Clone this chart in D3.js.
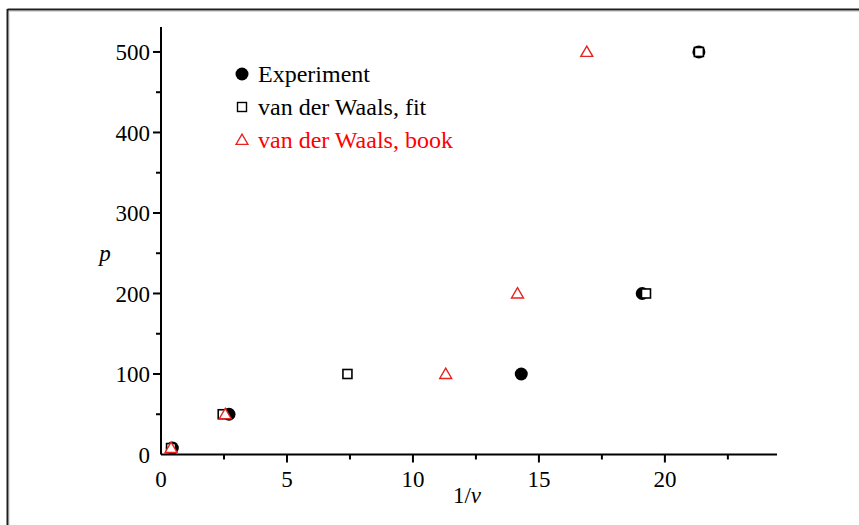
<!DOCTYPE html>
<html>
<head>
<meta charset="utf-8">
<script src="https://cdn.jsdelivr.net/npm/d3@7/dist/d3.min.js"></script>
<style>
  html, body { margin: 0; padding: 0; background: #fff; }
  svg { display: block; }
  text { font-family: "Liberation Serif", "Times New Roman", serif; }
</style>
</head>
<body>
<svg id="chart" width="859" height="525"></svg>
<script>
// Pressure p against inverse volume 1/v
const experimentX = [0.45, 2.7, 14.3, 19.1, 21.35];
const experimentP = [8, 50, 100, 200, 500];
const fitX = [0.4, 2.45, 7.4, 19.25, 21.35];
const fitP = [8, 50, 100, 200, 500];
const bookX = [0.4, 2.55, 11.3, 14.15, 16.9];
const bookP = [8, 50, 100, 200, 500];

const xMajorTicks = [0, 5, 10, 15, 20];
const xMinorTicks = [2.5, 7.5, 12.5, 17.5, 22.5];
const yMajorTicks = [0, 100, 200, 300, 400, 500];
const yMinorTicks = [50, 150, 250, 350, 450];

const legendLabels = ["Experiment", "van der Waals, fit", "van der Waals, book"];

const svg = d3.select("#chart");

// frame lines along the top and left edges
svg.append("line").attr("x1", 7.5).attr("x2", 859).attr("y1", 9.5).attr("y2", 9.5)
  .attr("stroke", "#1e1e1e").attr("stroke-width", 2);
svg.append("line").attr("x1", 7.5).attr("x2", 859).attr("y1", 11.5).attr("y2", 11.5)
  .attr("stroke", "#d8d8d8").attr("stroke-width", 1);
svg.append("line").attr("x1", 7.5).attr("x2", 7.5).attr("y1", 9).attr("y2", 525)
  .attr("stroke", "#1e1e1e").attr("stroke-width", 2);
svg.append("line").attr("x1", 9.5).attr("x2", 9.5).attr("y1", 11).attr("y2", 525)
  .attr("stroke", "#e4e4e4").attr("stroke-width", 1);

const x = d3.scaleLinear().domain([0, 24.45]).range([161, 777]);
const y = d3.scaleLinear().domain([0, 531]).range([454.5, 27]);

const fontSize = 23;

// x axis
const xAxis = svg.append("g").attr("transform", `translate(0,${y(0)})`);
xAxis.append("line").attr("x1", x(0)).attr("x2", x(24.45))
  .attr("stroke", "#000").attr("stroke-width", 2);
xAxis.selectAll("line.major").data(xMajorTicks.filter(d => d > 0)).join("line")
  .attr("class", "major").attr("x1", d => x(d)).attr("x2", d => x(d))
  .attr("y1", 0).attr("y2", 8).attr("stroke", "#000").attr("stroke-width", 2);
xAxis.selectAll("line.minor").data(xMinorTicks).join("line")
  .attr("class", "minor").attr("x1", d => x(d)).attr("x2", d => x(d))
  .attr("y1", 0).attr("y2", 5).attr("stroke", "#000").attr("stroke-width", 2);
xAxis.selectAll("text").data(xMajorTicks).join("text")
  .attr("x", d => x(d)).attr("y", 32).attr("text-anchor", "middle")
  .attr("font-size", fontSize).attr("fill", "#000").text(d => d);

// y axis
const yAxis = svg.append("g").attr("transform", `translate(${x(0)},0)`);
yAxis.append("line").attr("y1", y(0)).attr("y2", y(531))
  .attr("stroke", "#000").attr("stroke-width", 2);
yAxis.selectAll("line.major").data(yMajorTicks.filter(d => d > 0)).join("line")
  .attr("class", "major").attr("y1", d => y(d)).attr("y2", d => y(d))
  .attr("x1", 0).attr("x2", -8).attr("stroke", "#000").attr("stroke-width", 2);
yAxis.selectAll("line.minor").data(yMinorTicks).join("line")
  .attr("class", "minor").attr("y1", d => y(d)).attr("y2", d => y(d))
  .attr("x1", 0).attr("x2", -5).attr("stroke", "#000").attr("stroke-width", 2);
yAxis.selectAll("text").data(yMajorTicks).join("text")
  .attr("x", -11).attr("y", d => y(d)).attr("dy", "0.35em").attr("text-anchor", "end")
  .attr("font-size", fontSize).attr("fill", "#000").text(d => d);

// axis titles
const xTitle = svg.append("text").attr("x", 467).attr("y", 503).attr("text-anchor", "middle")
  .attr("font-size", fontSize).attr("fill", "#000");
xTitle.append("tspan").text("1/");
xTitle.append("tspan").attr("font-style", "italic").text("v");
svg.append("text").attr("x", 105).attr("y", 261).attr("text-anchor", "middle")
  .attr("font-size", fontSize).attr("font-style", "italic").attr("fill", "#000").text("p");

// markers
const sq = 9;
const triPath = d3.symbol().type(d3.symbolTriangle).size(62);
const plot = svg.append("g");

plot.selectAll("circle.exp").data(d3.zip(experimentX, experimentP)).join("circle")
  .attr("class", "exp").attr("cx", d => x(d[0])).attr("cy", d => y(d[1]))
  .attr("r", 6.5).attr("fill", "#000");

plot.selectAll("rect.fit").data(d3.zip(fitX, fitP)).join("rect")
  .attr("class", "fit").attr("x", d => x(d[0]) - sq / 2).attr("y", d => y(d[1]) - sq / 2)
  .attr("width", sq).attr("height", sq)
  .attr("fill", "#fff").attr("stroke", "#000").attr("stroke-width", 1.6);

plot.selectAll("path.book").data(d3.zip(bookX, bookP)).join("path")
  .attr("class", "book").attr("d", triPath)
  .attr("transform", d => `translate(${x(d[0])},${y(d[1]) + 1})`)
  .attr("fill", "#fff").attr("stroke", "#e8231f").attr("stroke-width", 1.4);

// legend
const legend = svg.append("g");
const legY = [74, 107, 140];
legend.append("circle").attr("cx", 242).attr("cy", legY[0]).attr("r", 6.5).attr("fill", "#000");
legend.append("rect").attr("x", 242 - 4.5).attr("y", legY[1] - 4.5).attr("width", 9).attr("height", 9)
  .attr("fill", "#fff").attr("stroke", "#000").attr("stroke-width", 1.4);
legend.append("path").attr("d", triPath).attr("transform", `translate(242,${legY[2] + 1})`)
  .attr("fill", "#fff").attr("stroke", "#e8231f").attr("stroke-width", 1.3);
legend.selectAll("text").data(legendLabels).join("text")
  .attr("x", 258).attr("y", (d, i) => legY[i]).attr("dy", "0.33em")
  .attr("font-size", 24).attr("fill", (d, i) => i === 2 ? "#ff0000" : "#000")
  .text(d => d);
</script>
</body>
</html>
